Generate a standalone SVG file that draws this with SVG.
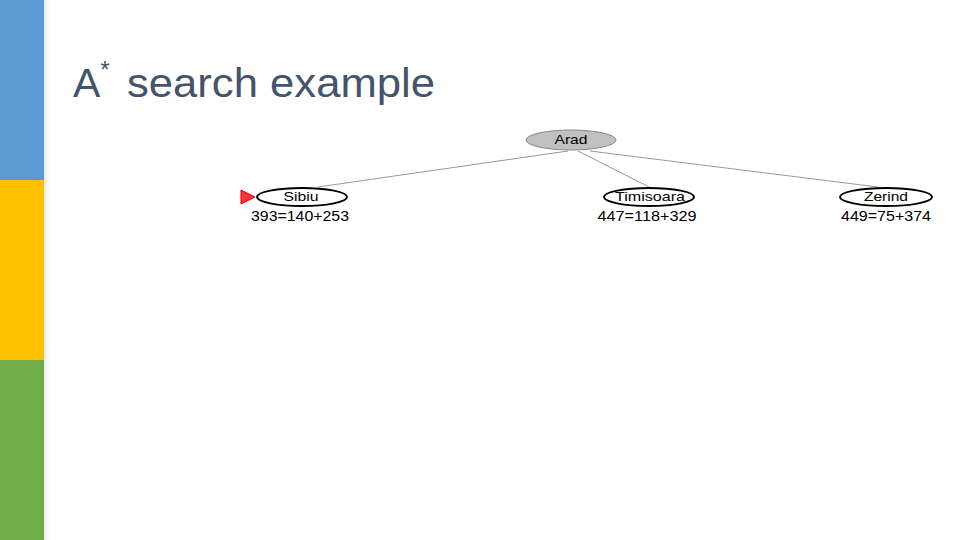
<svg xmlns="http://www.w3.org/2000/svg" width="960" height="540" viewBox="0 0 960 540">
<defs>
<linearGradient id="fade" x1="0" y1="0" x2="1" y2="0">
<stop offset="0" stop-color="#000" stop-opacity="0.15"/>
<stop offset="1" stop-color="#000" stop-opacity="0"/>
</linearGradient>
</defs>
<style>
.lbl{font-family:"Liberation Sans",Arial,sans-serif;font-size:13px;fill:#000;text-anchor:middle}
.val{font-family:"Liberation Sans",Arial,sans-serif;font-size:14px;fill:#000;text-anchor:middle}
.open{fill:#fff;stroke:#000;stroke-width:2}
.edge{stroke:#999;stroke-width:1;fill:none}
</style>
<rect width="960" height="540" fill="#fff"/>
<rect x="0" y="0" width="44" height="180" fill="#5B9BD5"/>
<rect x="0" y="180" width="44" height="180" fill="#FFC000"/>
<rect x="0" y="360" width="44" height="180" fill="#70AD47"/>
<rect x="44" y="0" width="6" height="540" fill="url(#fade)" opacity="0.5"/>
<text x="73" y="97" font-family="Liberation Sans,Arial,sans-serif" font-size="41" fill="#44546A">A<tspan font-size="24" dy="-19">*</tspan><tspan dy="19" x="127" textLength="308" lengthAdjust="spacingAndGlyphs">search example</tspan></text>
<g id="connectors">
<line class="edge" x1="568" y1="151" x2="318" y2="187"/>
<line class="edge" x1="578" y1="151" x2="649" y2="187"/>
<line class="edge" x1="590" y1="151" x2="878" y2="187"/>
</g>
<g id="arad">
<ellipse cx="571" cy="140" rx="45" ry="10" fill="#c0c0c0" stroke="#888" stroke-width="1"/>
<text class="lbl" x="571" y="144" textLength="33" lengthAdjust="spacingAndGlyphs">Arad</text>
</g>
<g id="sibiu">
<polygon points="241,190 255,197 241,204" fill="#f33" stroke="#d00" stroke-width="1"/>
<ellipse class="open" cx="302" cy="197" rx="45" ry="9"/>
<text class="lbl" x="301" y="201" textLength="35" lengthAdjust="spacingAndGlyphs">Sibiu</text>
<text class="val" x="300" y="221" textLength="98" lengthAdjust="spacingAndGlyphs">393=140+253</text>
</g>
<g id="timisoara">
<ellipse class="open" cx="649" cy="197" rx="45" ry="9"/>
<text class="lbl" x="650" y="201" textLength="70" lengthAdjust="spacingAndGlyphs">Timisoara</text>
<text class="val" x="647" y="221" textLength="99" lengthAdjust="spacingAndGlyphs">447=118+329</text>
</g>
<g id="zerind">
<ellipse class="open" cx="886" cy="197" rx="46" ry="9"/>
<text class="lbl" x="886" y="201" textLength="44" lengthAdjust="spacingAndGlyphs">Zerind</text>
<text class="val" x="886" y="221" textLength="90" lengthAdjust="spacingAndGlyphs">449=75+374</text>
</g>
</svg>
